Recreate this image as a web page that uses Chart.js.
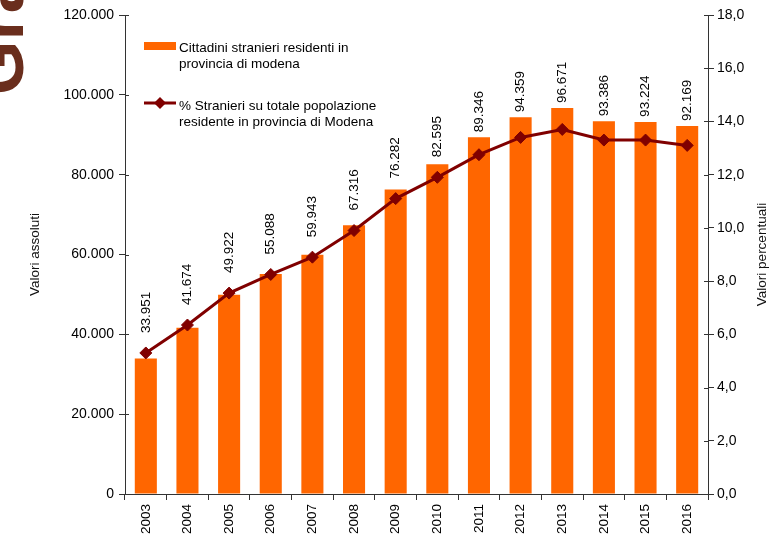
<!DOCTYPE html>
<html>
<head>
<meta charset="utf-8">
<script src="https://cdn.jsdelivr.net/npm/chart.js@4.4.1/dist/chart.umd.min.js"></script>
<style>
    html, body { margin: 0; padding: 0; background: #fff; }
    #wrap { width: 774px; height: 540px; }
</style>
</head>
<body>
<div id="wrap"><canvas id="grafico"></canvas></div>
<script>
var anni = ['2003', '2004', '2005', '2006', '2007', '2008', '2009', '2010', '2011', '2012', '2013', '2014', '2015', '2016'];
var stranieri = [33951, 41674, 49922, 55088, 59943, 67316, 76282, 82595, 89346, 94359, 96671, 93386, 93224, 92169];
var percentuali = [5.3, 6.35, 7.55, 8.25, 8.9, 9.9, 11.1, 11.9, 12.75, 13.4, 13.7, 13.3, 13.3, 13.1];

var etichettaBarre = 'Cittadini stranieri residenti in\nprovincia di modena';
var etichettaLinea = '% Stranieri su totale popolazione\nresidente in provincia di Modena';

var coloreBarre = '#FF6600';
var coloreLinea = '#800000';
var font = '"Liberation Sans", Arial, sans-serif';

function puntoMigliaia(v) {
    return String(v).replace(/\B(?=(\d{3})+(?!\d))/g, '.');
}

// titolo tagliato a sinistra + titolo asse destro (letto dal basso)
var sfondo = {
    id: 'sfondo',
    afterDraw: function (chart) {
        var ctx = chart.ctx;
        ctx.save();
        ctx.translate(23, 95);
        ctx.rotate(-Math.PI / 2);
        ctx.font = 'bold 70px ' + font;
        ctx.fillStyle = '#6A2E1D';
        ctx.fillText('Grafico', 0, 0);
        ctx.restore();

        ctx.save();
        ctx.translate(762, (chart.chartArea.top + chart.chartArea.bottom) / 2);
        ctx.rotate(-Math.PI / 2);
        ctx.font = '13.5px ' + font;
        ctx.fillStyle = '#111';
        ctx.textAlign = 'center';
        ctx.textBaseline = 'middle';
        ctx.fillText('Valori percentuali', 0, 0);
        ctx.restore();

        // tacche degli assi y che attraversano la linea
        var a = chart.chartArea;
        ctx.save();
        ctx.strokeStyle = '#333';
        ctx.lineWidth = 1;
        ctx.beginPath();
        chart.scales.y.ticks.forEach(function (t) {
            var py = Math.round(chart.scales.y.getPixelForValue(t.value)) + 0.5;
            ctx.moveTo(a.left, py);
            ctx.lineTo(a.left + 4, py);
        });
        chart.scales.y1.ticks.forEach(function (t) {
            var py = Math.round(chart.scales.y1.getPixelForValue(t.value)) + 0.5;
            ctx.moveTo(a.right - 4, py);
            ctx.lineTo(a.right, py);
        });
        ctx.stroke();
        ctx.restore();
    }
};

var etichette = {
    id: 'etichette',
    afterDatasetsDraw: function (chart) {
        var ctx = chart.ctx;
        var barre = chart.getDatasetMeta(0).data;
        var punti = chart.getDatasetMeta(1).data;
        ctx.save();
        ctx.font = '13.5px ' + font;
        ctx.fillStyle = '#000';
        ctx.textAlign = 'left';
        ctx.textBaseline = 'middle';
        for (let i = 0; i < barre.length; i++) {
            var base = Math.min(barre[i].y - 5, punti[i].y - 20);
            ctx.save();
            ctx.translate(barre[i].x, base);
            ctx.rotate(-Math.PI / 2);
            ctx.fillText(puntoMigliaia(stranieri[i]), 0, 0);
            ctx.restore();
        }
        ctx.restore();
    }
};

var legenda = {
    id: 'legenda',
    afterDraw: function (chart) {
        var ctx = chart.ctx;
        ctx.save();
        ctx.fillStyle = coloreBarre;
        ctx.fillRect(144, 42, 32, 8);

        ctx.strokeStyle = coloreLinea;
        ctx.lineWidth = 3;
        ctx.beginPath();
        ctx.moveTo(144, 103);
        ctx.lineTo(176, 103);
        ctx.stroke();
        ctx.fillStyle = coloreLinea;
        ctx.beginPath();
        ctx.moveTo(160, 97);
        ctx.lineTo(166, 103);
        ctx.lineTo(160, 109);
        ctx.lineTo(154, 103);
        ctx.closePath();
        ctx.fill();

        ctx.font = '13.5px ' + font;
        ctx.fillStyle = '#000';
        var r1 = etichettaBarre.split('\n');
        ctx.fillText(r1[0], 179, 51.5);
        ctx.fillText(r1[1], 179, 67.5);
        var r2 = etichettaLinea.split('\n');
        ctx.fillText(r2[0], 179, 110);
        ctx.fillText(r2[1], 179, 126);
        ctx.restore();
    }
};

var grafico = new Chart(document.getElementById('grafico'), {
    type: 'bar',
    data: {
        labels: anni,
        datasets: [{
            label: etichettaBarre,
            data: stranieri,
            backgroundColor: coloreBarre,
            barPercentage: 0.53,
            categoryPercentage: 1,
            yAxisID: 'y',
            order: 1
        }, {
            type: 'line',
            label: etichettaLinea,
            data: percentuali,
            borderColor: coloreLinea,
            backgroundColor: coloreLinea,
            borderWidth: 3,
            tension: 0,
            pointStyle: 'rectRot',
            pointRadius: 6,
            pointBorderWidth: 1,
            pointBackgroundColor: coloreLinea,
            pointBorderColor: coloreLinea,
            yAxisID: 'y1',
            order: 0
        }]
    },
    options: {
        responsive: true,
        maintainAspectRatio: false,
        animation: false,
        layout: {
            padding: { left: 27, right: 5, top: 15, bottom: 0 }
        },
        plugins: {
            legend: { display: false },
            tooltip: { enabled: false }
        },
        scales: {
            x: {
                offset: true,
                grid: { drawOnChartArea: false, drawTicks: true, tickLength: 6, color: '#333', offset: true },
                border: { color: '#333' },
                ticks: {
                    minRotation: 90,
                    maxRotation: 90,
                    padding: 4,
                    color: '#000',
                    font: { family: font, size: 13.5 }
                },
                afterFit: function (s) { s.height = 46; }
            },
            y: {
                position: 'left',
                min: 0,
                max: 120000,
                grid: { drawOnChartArea: false, tickLength: 6, color: '#333' },
                border: { color: '#333' },
                ticks: {
                    stepSize: 20000,
                    padding: 5,
                    color: '#000',
                    font: { family: font, size: 14 },
                    callback: function (v) { return puntoMigliaia(v); }
                },
                title: {
                    display: true,
                    text: 'Valori assoluti',
                    color: '#111',
                    padding: { top: 0, bottom: 0 },
                    font: { family: font, size: 13.5 }
                },
                afterFit: function (s) { s.width = 98; }
            },
            y1: {
                position: 'right',
                min: 0,
                max: 18,
                grid: { drawOnChartArea: false, tickLength: 6, color: '#333' },
                border: { color: '#333' },
                ticks: {
                    stepSize: 2,
                    padding: 3,
                    color: '#000',
                    font: { family: font, size: 14 },
                    callback: function (v) { return v.toFixed(1).replace('.', ','); }
                },
                afterFit: function (s) { s.width = 61; }
            }
        }
    },
    plugins: [sfondo, etichette, legenda]
});
</script>
</body>
</html>
